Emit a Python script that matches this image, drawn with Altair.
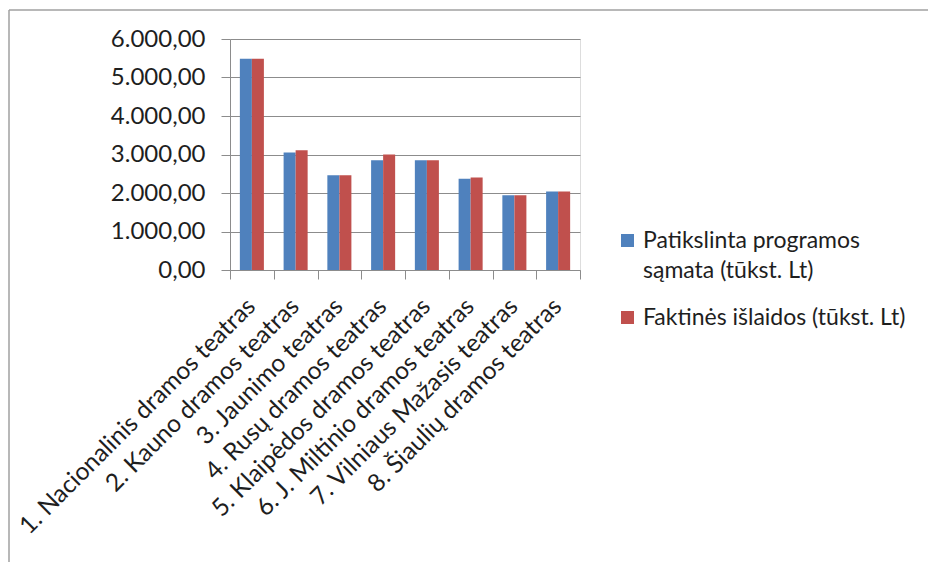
import altair as alt
import pandas as pd

theatres = [
    "1. Nacionalinis dramos teatras",
    "2. Kauno dramos teatras",
    "3. Jaunimo teatras",
    "4. Rusų dramos teatras",
    "5. Klaipėdos dramos teatras",
    "6. J. Miltinio dramos teatras",
    "7. Vilniaus Mažasis teatras",
    "8. Šiaulių dramos teatras",
]
series_names = [
    "Patikslinta programos sąmata (tūkst. Lt)",
    "Faktinės išlaidos (tūkst. Lt)",
]
planned = [5490, 3050, 2460, 2850, 2850, 2370, 1940, 2040]
actual = [5490, 3110, 2460, 3000, 2850, 2400, 1940, 2040]
y_ticks = [0, 1000, 2000, 3000, 4000, 5000, 6000]
colors = ["#4F81BD", "#C0504D"]

rows = []
for t, p, a in zip(theatres, planned, actual):
    rows.append({"theatre": t, "series": series_names[0], "value": p})
    rows.append({"theatre": t, "series": series_names[1], "value": a})
df = pd.DataFrame(rows)

FONT = "Lato"
GRAY = "#8c8c8c"
TXT = "#1e1e1e"

bars = alt.Chart(df).mark_bar().encode(
    x=alt.X(
        "theatre:N",
        sort=theatres,
        scale=alt.Scale(paddingInner=0, paddingOuter=0),
        axis=alt.Axis(
            title=None,
            labelAngle=-45,
            labelAlign="right",
            labelBaseline="top",
            labelFont=FONT,
            labelFontSize=24.5,
            labelColor=TXT,
            labelPadding=15,
            labelOffset=-9,
            tickBand="extent",
            tickSize=9,
            tickColor=GRAY,
            domainColor=GRAY,
            grid=False,
            labelLimit=0,
        ),
    ),
    xOffset=alt.XOffset(
        "series:N",
        sort=series_names,
        scale=alt.Scale(paddingInner=0, paddingOuter=0.82),
    ),
    y=alt.Y(
        "value:Q",
        scale=alt.Scale(domain=[0, 6000], nice=False),
        axis=alt.Axis(
            title=None,
            values=y_ticks,
            format=",.2f",
            labelFont=FONT,
            labelFontSize=24,
            labelColor=TXT,
            labelPadding=16,
            tickSize=9,
            tickColor=GRAY,
            domainColor=GRAY,
            gridColor=GRAY,
            grid=True,
        ),
    ),
    color=alt.Color(
        "series:N",
        sort=series_names,
        scale=alt.Scale(domain=series_names, range=colors),
        legend=alt.Legend(
            title=None,
            orient="none",
            legendX=386,
            legendY=190,
            symbolType="square",
            symbolSize=169,
            symbolStrokeWidth=0,
            labelFont=FONT,
            labelFontSize=23,
            labelColor=TXT,
            labelOffset=4,
            labelLimit=0,
            rowPadding=23,
            labelBaseline="middle",
            labelExpr="indexof(datum.label, 'Patikslinta') == 0 ? ['Patikslinta programos', 'sąmata (tūkst. Lt)'] : datum.label",
        ),
    ),
)

frame_df = pd.DataFrame({"k": [0]})
frame_left = alt.Chart(frame_df).mark_rule(color="#a0a0a0", strokeWidth=1.5).encode(
    x=alt.value(-221), y=alt.value(-29), y2=alt.value(600)
)
frame_top = alt.Chart(frame_df).mark_rule(color="#a0a0a0", strokeWidth=1.5).encode(
    x=alt.value(-221), x2=alt.value(800), y=alt.value(-29)
)

chart = (
    alt.layer(frame_left, frame_top, bars)
    .properties(
        width=350,
        height=231,
        autosize=alt.AutoSizeParams(type="none"),
        padding={"left": 222, "top": 31, "right": 348, "bottom": 292},
        background="white",
    )
    .configure_view(stroke=None)
    .configure(
        style={"guide-label": {"lineHeight": 30}},
        locale={
            "number": {
                "decimal": ",",
                "thousands": ".",
                "grouping": [3],
                "currency": ["", ""],
            }
        },
    )
)

chart.save("out.html", embed_options={"renderer": "svg", "actions": False})
